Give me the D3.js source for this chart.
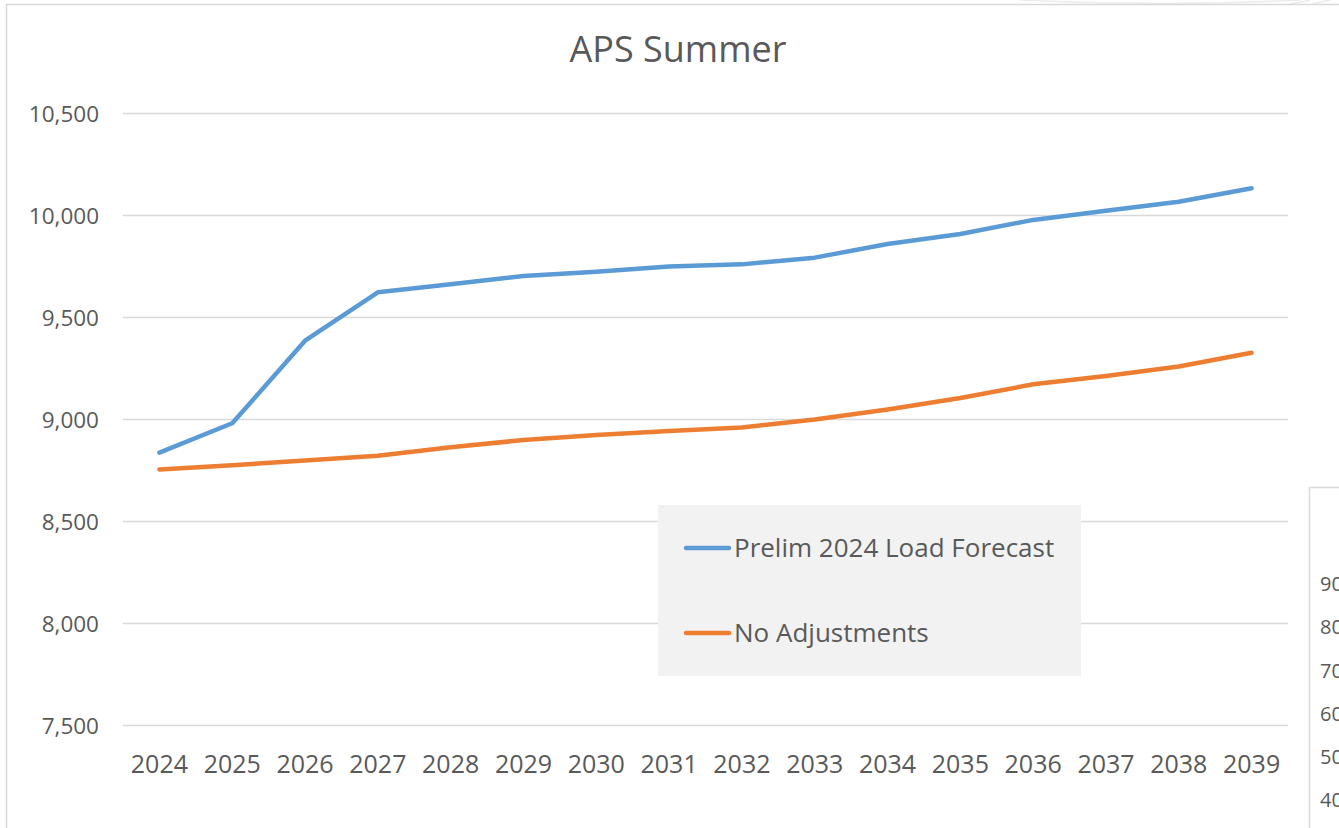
<!DOCTYPE html>
<html>
<head>
<meta charset="utf-8">
<script src="https://cdn.jsdelivr.net/npm/d3@7"></script>
<style>
  html, body { margin: 0; padding: 0; background: #fff; overflow: hidden; }
  text { font-family: "Open Sans", sans-serif; fill: #595959; }
</style>
</head>
<body>
<div id="chart"></div>
<script>
// data
const years = ["2024", "2025", "2026", "2027", "2028", "2029", "2030", "2031",
  "2032", "2033", "2034", "2035", "2036", "2037", "2038", "2039"];
const prelimForecast = [8835, 8979, 9384, 9621, 9660, 9701, 9722, 9747,
  9758, 9791, 9858, 9907, 9976, 10021, 10065, 10131];
const noAdjustments = [8753, 8773, 8797, 8820, 8861, 8897, 8922, 8941,
  8958, 8998, 9047, 9103, 9170, 9211, 9257, 9325];
const yTicks = [7500, 8000, 8500, 9000, 9500, 10000, 10500];
const seriesNames = ["Prelim 2024 Load Forecast", "No Adjustments"];
const seriesColors = ["#5b9bd5", "#ed7d31"];
const sideTicks = ["90", "80", "70", "60", "50", "40"];

const width = 1339, height = 828;
const margins = { top: 113, right: 51, bottom: 103, left: 123 };
const innerWidth = width - margins.left - margins.right;
const innerHeight = height - margins.top - margins.bottom;

const svg = d3.select("#chart").append("svg")
  .attr("width", width)
  .attr("height", height);

// faint shapes peeking above the frame, top right
svg.append("path")
  .attr("d", "M1020,0 Q1160,7 1300,0 M1290,4 L1310,0 M1312,4 L1330,0")
  .attr("fill", "none")
  .attr("stroke", "#ebebeb")
  .attr("stroke-width", 1.5);

// chart frame (only top and left edges are in view)
svg.append("path")
  .attr("d", `M6.5,${height} V4.5 H${width}`)
  .attr("fill", "none")
  .attr("stroke", "#d9d9d9")
  .attr("stroke-width", 1.5);

svg.append("text")
  .attr("x", 678)
  .attr("y", 61.5)
  .attr("text-anchor", "middle")
  .attr("font-size", "36px")
  .text("APS Summer");

const mainG = svg.append("g")
  .attr("transform", `translate(${margins.left},${margins.top})`);

const xScale = d3.scaleBand()
  .domain(years)
  .range([0, innerWidth]);

const yScale = d3.scaleLinear()
  .domain([7500, 10500])
  .range([innerHeight, 0]);

// gridlines + y labels
const yAxisG = mainG.append("g")
  .call(d3.axisLeft(yScale)
    .tickValues(yTicks)
    .tickSize(-innerWidth)
    .tickPadding(24)
    .tickFormat(d3.format(",")));
yAxisG.select(".domain").remove();
yAxisG.selectAll(".tick line")
  .attr("stroke", "#d9d9d9")
  .attr("stroke-width", 1.5);
yAxisG.selectAll(".tick text")
  .attr("font-size", "22.5px")
  .attr("font-family", "Open Sans, sans-serif")
  .attr("fill", "#595959")
  .attr("dy", "0.36em");

// x labels
const xAxisG = mainG.append("g")
  .attr("transform", `translate(0,${innerHeight})`)
  .call(d3.axisBottom(xScale).tickSize(0).tickPadding(30));
xAxisG.select(".domain").remove();
xAxisG.selectAll(".tick text")
  .attr("font-size", "25px")
  .attr("font-family", "Open Sans, sans-serif")
  .attr("fill", "#595959")
  .attr("dy", "0.71em");

// lines
const line = d3.line()
  .x((d, i) => xScale(years[i]) + xScale.bandwidth() / 2)
  .y((d) => yScale(d));

const seriesValues = [prelimForecast, noAdjustments];
mainG.append("g").attr("class", "lines")
  .selectAll("path")
  .data(seriesValues)
  .join("path")
  .attr("d", line)
  .attr("fill", "none")
  .attr("stroke", (d, i) => seriesColors[i])
  .attr("stroke-width", 4.5)
  .attr("stroke-linejoin", "round")
  .attr("stroke-linecap", "round");

// legend
const legendG = svg.append("g").attr("transform", "translate(658,505)");
legendG.append("rect")
  .attr("width", 423)
  .attr("height", 171)
  .attr("fill", "#f2f2f2");

const legendRows = legendG.selectAll("g.item")
  .data(seriesNames)
  .join("g")
  .attr("class", "item")
  .attr("transform", (d, i) => `translate(0,${43 + i * 85})`);
legendRows.append("line")
  .attr("x1", 28).attr("x2", 71)
  .attr("stroke", (d, i) => seriesColors[i])
  .attr("stroke-width", 4.5)
  .attr("stroke-linecap", "round");
legendRows.append("text")
  .attr("x", 76)
  .attr("dy", "0.36em")
  .attr("font-size", "26px")
  .text((d) => d);

// edge of the neighbouring chart on the right
const sideG = svg.append("g");
sideG.append("rect")
  .attr("x", 1309.5)
  .attr("y", 487.5)
  .attr("width", 60)
  .attr("height", 400)
  .attr("fill", "#fff")
  .attr("stroke", "#d9d9d9")
  .attr("stroke-width", 1.5);
sideG.selectAll("text")
  .data(sideTicks)
  .join("text")
  .attr("x", 1320)
  .attr("y", (d, i) => 584 + i * 43.2)
  .attr("dy", "0.36em")
  .attr("font-size", "20px")
  .text((d) => d);
</script>
</body>
</html>
